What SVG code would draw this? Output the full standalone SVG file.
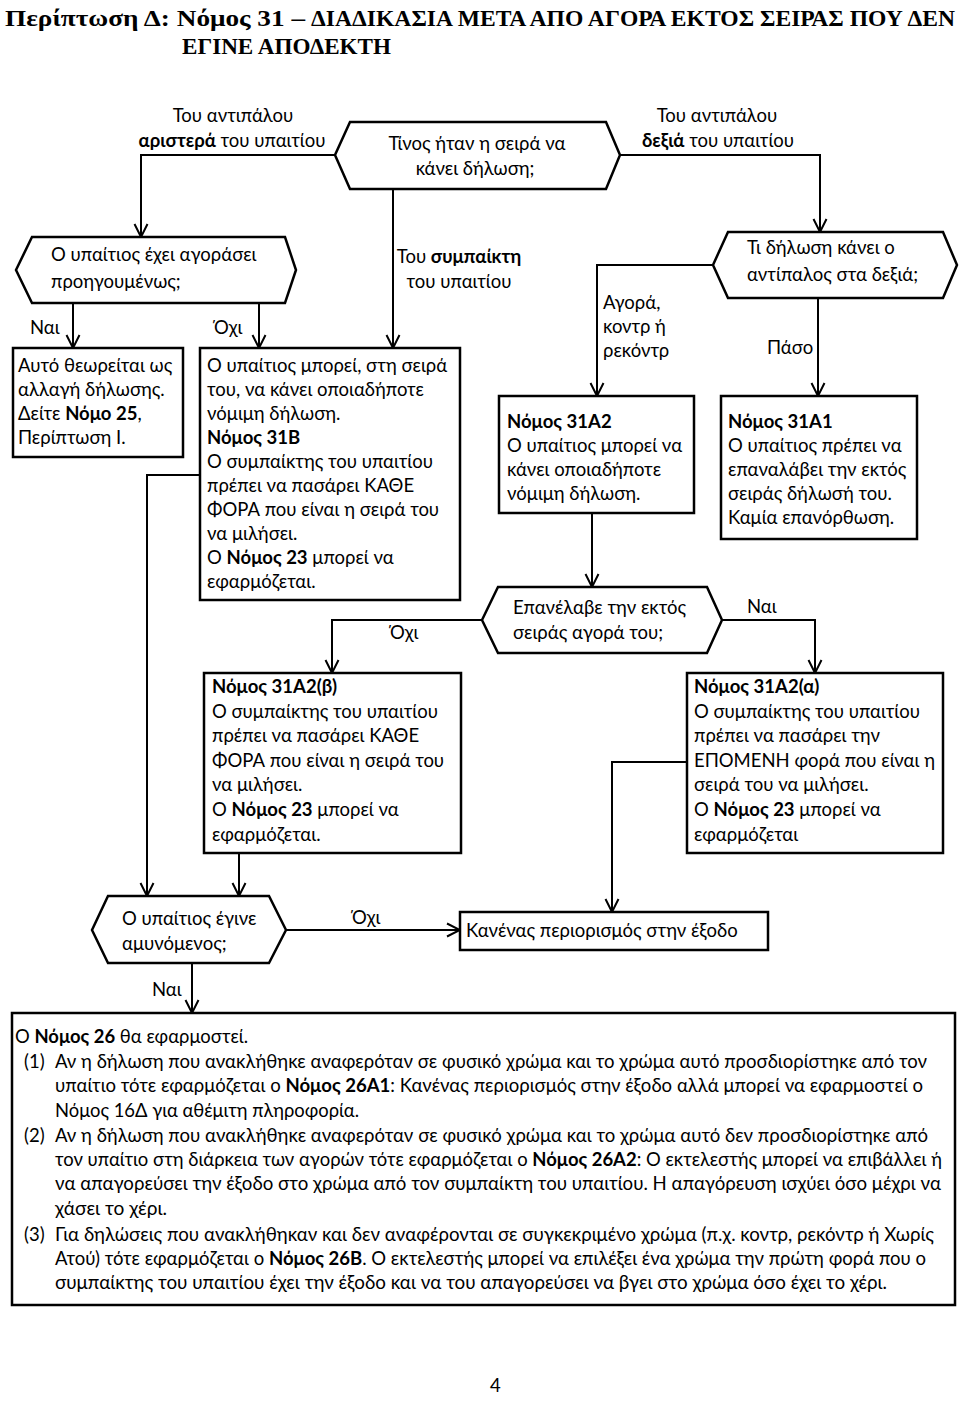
<svg xmlns="http://www.w3.org/2000/svg" width="960" height="1415" viewBox="0 0 960 1415">
<style>
.t{font-family:Lato,'Open Sans','Liberation Sans',sans-serif;font-size:18.5px;fill:#000}
.c{text-anchor:middle}
.b{font-weight:bold}
.ttl{font-family:'Liberation Serif','DejaVu Serif',serif;font-size:23.5px;font-weight:bold;fill:#000}
.box{fill:#fff;stroke:#000;stroke-width:2.5}
.ln{fill:none;stroke:#000;stroke-width:2}
.ar{marker-end:url(#ah)}
</style>
<defs>
<marker id="ah" markerUnits="userSpaceOnUse" markerWidth="16" markerHeight="16" viewBox="0 0 16 16" refX="14" refY="8" orient="auto">
<path d="M1,1.5 L14,8 L1,14.5" fill="none" stroke="#000" stroke-width="2"/>
</marker>
</defs>
<rect x="0" y="0" width="960" height="1415" fill="#fff"/>

<g id="title">
<text class="ttl" x="5" y="26" textLength="300" lengthAdjust="spacingAndGlyphs">Περίπτωση Δ: Νόμος 31 –</text>
<text class="ttl" x="311" y="26" textLength="644" lengthAdjust="spacingAndGlyphs">ΔΙΑΔΙΚΑΣΙΑ ΜΕΤΑ ΑΠΟ ΑΓΟΡΑ ΕΚΤΟΣ ΣΕΙΡΑΣ ΠΟΥ ΔΕΝ</text>
<text class="ttl" x="182" y="54" textLength="209" lengthAdjust="spacingAndGlyphs">ΕΓΙΝΕ ΑΠΟΔΕΚΤΗ</text>
</g>

<g id="connectors">
<path class="ln ar" d="M335,155 H141 V237"/>
<path class="ln ar" d="M620,155 H820 V232"/>
<path class="ln ar" d="M393,189 V348"/>
<path class="ln ar" d="M73,303 V348"/>
<path class="ln ar" d="M259,303 V348"/>
<path class="ln ar" d="M713,265 H597 V396"/>
<path class="ln ar" d="M818,298 V396"/>
<path class="ln ar" d="M592,513 V587"/>
<path class="ln ar" d="M722,620 H815 V673"/>
<path class="ln ar" d="M482,620 H332 V673"/>
<path class="ln ar" d="M200,475 H147 V896"/>
<path class="ln ar" d="M239,853 V896"/>
<path class="ln ar" d="M687,762 H612 V912"/>
<path class="ln ar" d="M286,930 H460"/>
<path class="ln ar" d="M192,963 V1013"/>
<text class="t" x="30" y="334">Ναι</text>
<text class="t" x="214" y="334">Όχι</text>
<text class="t c" x="459" y="263">Του <tspan class="b">συμπαίκτη</tspan></text>
<text class="t c" x="459" y="288">του υπαιτίου</text>
<text class="t" x="603" y="309">Αγορά,</text>
<text class="t" x="603" y="333">κοντρ ή</text>
<text class="t" x="603" y="357">ρεκόντρ</text>
<text class="t" x="767" y="354">Πάσο</text>
<text class="t" x="747" y="613">Ναι</text>
<text class="t" x="390" y="639">Όχι</text>
<text class="t" x="352" y="924">Όχι</text>
<text class="t" x="152" y="996">Ναι</text>
<text class="t c" x="233" y="122">Του αντιπάλου</text>
<text class="t c" x="232" y="147"><tspan class="b">αριστερά</tspan> του υπαιτίου</text>
<text class="t c" x="717" y="122">Του αντιπάλου</text>
<text class="t c" x="718" y="147"><tspan class="b">δεξιά</tspan> του υπαιτίου</text>
</g>

<g id="n_turn">
<polygon class="box" points="335,155 350,122 606,122 620,155 606,189 350,189"/>
<text class="t c" x="477" y="150">Τίνος ήταν η σειρά να</text>
<text class="t c" x="475" y="175">κάνει δήλωση;</text>
</g>

<g id="n_prev">
<polygon class="box" points="16,270 32,237 285,237 296,270 285,303 32,303"/>
<text class="t" x="51" y="261">Ο υπαίτιος έχει αγοράσει</text>
<text class="t" x="51" y="288">προηγουμένως;</text>
</g>

<g id="n_change">
<rect class="box" x="13" y="348" width="170" height="109"/>
<text class="t" x="18" y="372">Αυτό θεωρείται ως</text>
<text class="t" x="18" y="396">αλλαγή δήλωσης.</text>
<text class="t" x="18" y="420">Δείτε <tspan class="b">Νόμο 25</tspan>,</text>
<text class="t" x="18" y="444">Περίπτωση Ι.</text>
</g>

<g id="n_31B">
<rect class="box" x="200" y="348" width="260" height="252"/>
<text class="t" x="207" y="372">Ο υπαίτιος μπορεί, στη σειρά</text>
<text class="t" x="207" y="396">του,  να κάνει οποιαδήποτε</text>
<text class="t" x="207" y="420">νόμιμη δήλωση.</text>
<text class="t b" x="207" y="444">Νόμος 31Β</text>
<text class="t" x="207" y="468">Ο συμπαίκτης του υπαιτίου</text>
<text class="t" x="207" y="492">πρέπει να πασάρει ΚΑΘΕ</text>
<text class="t" x="207" y="516">ΦΟΡΑ που είναι η σειρά του</text>
<text class="t" x="207" y="540">να μιλήσει.</text>
<text class="t" x="207" y="564">Ο <tspan class="b">Νόμος 23</tspan> μπορεί να</text>
<text class="t" x="207" y="588">εφαρμόζεται.</text>
</g>

<g id="n_opp">
<polygon class="box" points="713,265 728,232 943,232 957,265 943,298 728,298"/>
<text class="t" x="747" y="254">Τι δήλωση κάνει ο</text>
<text class="t" x="747" y="281">αντίπαλος στα δεξιά;</text>
</g>

<g id="n_31A2">
<rect class="box" x="499" y="396" width="195" height="117"/>
<text class="t b" x="507" y="428">Νόμος 31Α2</text>
<text class="t" x="507" y="452">Ο υπαίτιος μπορεί να</text>
<text class="t" x="507" y="476">κάνει οποιαδήποτε</text>
<text class="t" x="507" y="500">νόμιμη δήλωση.</text>
</g>

<g id="n_31A1">
<rect class="box" x="721" y="396" width="196" height="143"/>
<text class="t b" x="728" y="428">Νόμος 31Α1</text>
<text class="t" x="728" y="452">Ο υπαίτιος πρέπει να</text>
<text class="t" x="728" y="476">επαναλάβει την εκτός</text>
<text class="t" x="728" y="500">σειράς δήλωσή του.</text>
<text class="t" x="728" y="524">Καμία επανόρθωση.</text>
</g>

<g id="n_repeat">
<polygon class="box" points="482,620 498,587 707,587 722,620 707,653 498,653"/>
<text class="t" x="513" y="614">Επανέλαβε την εκτός</text>
<text class="t" x="513" y="639">σειράς αγορά του;</text>
</g>

<g id="n_31A2b">
<rect class="box" x="204" y="673" width="257" height="180"/>
<text class="t b" x="212" y="693">Νόμος 31Α2(β)</text>
<text class="t" x="212" y="717.6">Ο συμπαίκτης του υπαιτίου</text>
<text class="t" x="212" y="742.2">πρέπει να πασάρει ΚΑΘΕ</text>
<text class="t" x="212" y="766.8">ΦΟΡΑ που είναι η σειρά του</text>
<text class="t" x="212" y="791.4">να μιλήσει.</text>
<text class="t" x="212" y="816">Ο <tspan class="b">Νόμος 23</tspan> μπορεί να</text>
<text class="t" x="212" y="840.6">εφαρμόζεται.</text>
</g>

<g id="n_31A2a">
<rect class="box" x="687" y="673" width="256" height="180"/>
<text class="t b" x="694" y="693">Νόμος 31Α2(α)</text>
<text class="t" x="694" y="717.6">Ο συμπαίκτης του υπαιτίου</text>
<text class="t" x="694" y="742.2">πρέπει να πασάρει την</text>
<text class="t" x="694" y="766.8">ΕΠΟΜΕΝΗ φορά που είναι η</text>
<text class="t" x="694" y="791.4">σειρά του να μιλήσει.</text>
<text class="t" x="694" y="816">Ο <tspan class="b">Νόμος 23</tspan> μπορεί να</text>
<text class="t" x="694" y="840.6">εφαρμόζεται</text>
</g>

<g id="n_defender">
<polygon class="box" points="92,930 108,896 269,896 286,930 269,963 108,963"/>
<text class="t" x="122" y="925">Ο υπαίτιος έγινε</text>
<text class="t" x="122" y="950">αμυνόμενος;</text>
</g>

<g id="n_norestrict">
<rect class="box" x="460" y="912" width="308" height="38"/>
<text class="t" x="466" y="937">Κανένας περιορισμός στην έξοδο</text>
</g>

<g id="n_law26">
<rect class="box" x="12" y="1013" width="943" height="292"/>
<text class="t" x="15" y="1043" textLength="233" lengthAdjust="spacingAndGlyphs">Ο <tspan class="b">Νόμος 26</tspan> θα εφαρμοστεί.</text>
<text class="t" x="24" y="1068">(1)</text>
<text class="t" x="55" y="1068" textLength="872" lengthAdjust="spacingAndGlyphs">Αν η δήλωση που ανακλήθηκε αναφερόταν σε φυσικό χρώμα και το χρώμα αυτό προσδιορίστηκε από τον</text>
<text class="t" x="55" y="1092" textLength="868" lengthAdjust="spacingAndGlyphs">υπαίτιο τότε εφαρμόζεται ο <tspan class="b">Νόμος 26Α1</tspan>: Κανένας περιορισμός στην έξοδο αλλά μπορεί να εφαρμοστεί ο</text>
<text class="t" x="55" y="1117" textLength="304" lengthAdjust="spacingAndGlyphs">Νόμος 16Δ για αθέμιτη πληροφορία.</text>
<text class="t" x="24" y="1142">(2)</text>
<text class="t" x="55" y="1142" textLength="873" lengthAdjust="spacingAndGlyphs">Αν η δήλωση που ανακλήθηκε αναφερόταν σε φυσικό χρώμα και το χρώμα αυτό δεν προσδιορίστηκε από</text>
<text class="t" x="55" y="1166" textLength="887" lengthAdjust="spacingAndGlyphs">τον υπαίτιο στη διάρκεια των αγορών τότε εφαρμόζεται ο <tspan class="b">Νόμος 26Α2</tspan>: Ο εκτελεστής μπορεί να επιβάλλει ή</text>
<text class="t" x="55" y="1190" textLength="886" lengthAdjust="spacingAndGlyphs">να απαγορεύσει την έξοδο στο χρώμα από τον συμπαίκτη του υπαιτίου. Η απαγόρευση ισχύει όσο μέχρι να</text>
<text class="t" x="55" y="1215" textLength="112" lengthAdjust="spacingAndGlyphs">χάσει το χέρι.</text>
<text class="t" x="24" y="1241">(3)</text>
<text class="t" x="55" y="1241" textLength="879" lengthAdjust="spacingAndGlyphs">Για δηλώσεις που ανακλήθηκαν και δεν αναφέρονται σε συγκεκριμένο χρώμα (π.χ. κοντρ, ρεκόντρ ή Χωρίς</text>
<text class="t" x="55" y="1265" textLength="871" lengthAdjust="spacingAndGlyphs">Ατού) τότε εφαρμόζεται ο <tspan class="b">Νόμος 26Β</tspan>. Ο εκτελεστής μπορεί να επιλέξει ένα χρώμα την πρώτη φορά που ο</text>
<text class="t" x="55" y="1289" textLength="832" lengthAdjust="spacingAndGlyphs">συμπαίκτης του υπαιτίου έχει την έξοδο και να του απαγορεύσει να βγει στο χρώμα όσο έχει το χέρι.</text>
</g>

<g id="page">
<text class="t" x="490" y="1392">4</text>
</g>
</svg>
